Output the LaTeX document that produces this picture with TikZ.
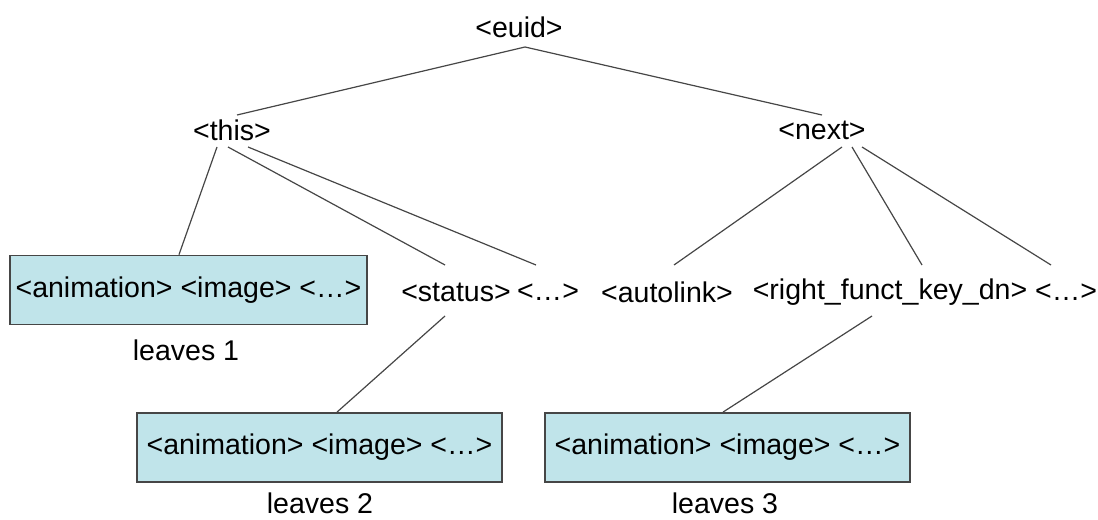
\documentclass[tikz,border=0pt]{standalone}
\usepackage{fontspec}
\setmainfont{Liberation Sans}
\usepackage{tikz}
\usetikzlibrary{calc}
\definecolor{leafblue}{RGB}{192,228,234}
\definecolor{edgegray}{RGB}{70,70,70}

\begin{document}
\begin{tikzpicture}[x=0.75pt,y=-0.75pt,
	font=\fontsize{21.4}{25}\selectfont,
	tag node/.style={inner sep=0pt},
	leaf node/.style={draw=edgegray, line width=1.1pt, fill=leafblue, inner sep=0pt, minimum height=52pt},
	link/.style={draw=edgegray, line width=0.9pt}]
	
	\useasboundingbox (0,0) rectangle (1098,520);
	
	\node[tag node] (euid) at (519,27) {<euid>};
	\node[tag node] (this) at (232,130) {<this>};
	\node[tag node] (next) at (822,130) {<next>};
	
	\node[tag node] (status) at (456,292) {<status>};
	\node[tag node] (dots1) at (548,292) {<…>};
	\node[tag node] (autolink) at (667,292) {<autolink>};
	\node[tag node] (rightkey) at (890,292) {<right\_funct\_key\_dn>};
	\node[tag node] (dots2) at (1066,292) {<…>};
	
	\node[leaf node, minimum width=268pt] (leaves1) at (188.5,290) {<animation> <image> <…>};
	\node[leaf node, minimum width=274pt] (leaves2) at (319.5,447.5) {<animation> <image> <…>};
	\node[leaf node, minimum width=274pt] (leaves3) at (727.5,447.5) {<animation> <image> <…>};
	
	\node[tag node] (label1) at (186,350) {leaves 1};
	\node[tag node] (label2) at (320,503) {leaves 2};
	\node[tag node] (label3) at (725,503) {leaves 3};
	
	% upper levels
	\draw[link] ($(this)+(5,-15)$) -- ($(euid)+(6,20)$) -- ($(next)+(0,-15)$);
	\draw[link] ($(this)+(-15,17)$) -- ($(leaves1.north)+(-9.5,0)$);
	\draw[link] ($(this)+(-4,17)$) -- ($(status)+(-11,-27)$);
	\draw[link] ($(this)+(16,17)$) -- ($(dots1)+(-12,-27)$);
	\draw[link] ($(next)+(20,17)$) -- ($(autolink)+(7,-27)$);
	\draw[link] ($(next)+(30,17)$) -- ($(rightkey)+(32,-27)$);
	\draw[link] ($(next)+(40,17)$) -- ($(dots2)+(-15,-27)$);
	
	% leaves
	\draw[link] ($(status)+(-11,24)$) -- ($(leaves2.north)+(17.5,0)$);
	\draw[link] ($(rightkey)+(-18,24)$) -- ($(leaves3.north)+(-4.5,0)$);
	
\end{tikzpicture}
\end{document}
